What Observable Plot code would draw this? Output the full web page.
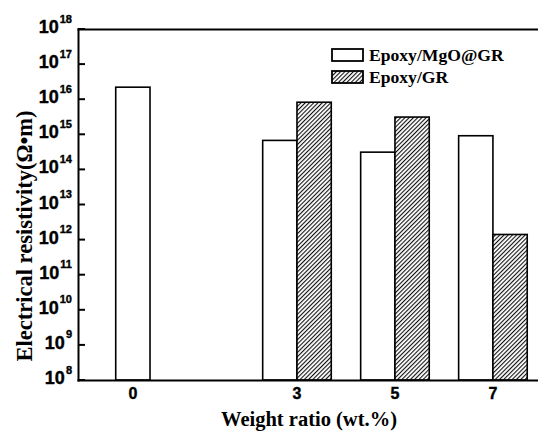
<!DOCTYPE html>
<html><head><meta charset="utf-8">
<script src="https://cdn.jsdelivr.net/npm/d3@7"></script>
<script src="https://cdn.jsdelivr.net/npm/@observablehq/plot@0.6"></script>
<style>body{margin:0;background:#fff}</style>
</head><body><div id="chart"></div>
<script>
// ---- data ----
const weights = [0, 3, 5, 7];
const mgoGR = [2.2e16, 6.7e14, 3.1e14, 9.1e14];
const epoxyGR = [null, 8.2e15, 3.1e15, 1.4e12];
const seriesNames = ["Epoxy/MgO@GR", "Epoxy/GR"];
const yTicks = [1e8, 1e9, 1e10, 1e11, 1e12, 1e13, 1e14, 1e15, 1e16, 1e17, 1e18];
const xTitle = "Weight ratio (wt.%)";
const yTitle = "Electrical resistivity(Ω•m)";

const barW = 0.7;
const rows = [];
weights.forEach((w, i) => {
  if (mgoGR[i] != null) rows.push({w, series: seriesNames[0], v: mgoGR[i], x1: w - barW, x2: w, base: yTicks[0]});
  if (epoxyGR[i] != null) rows.push({w, series: seriesNames[1], v: epoxyGR[i], x1: w, x2: w + barW, base: yTicks[0]});
});
const labels = weights.map(w => {
  const present = rows.filter(r => r.w === w);
  return {w, x: d3.mean(present, r => (r.x1 + r.x2) / 2)};
});

const serif = "'Liberation Serif', 'Times New Roman', serif";
const sans = "Arial, 'Liberation Sans', sans-serif";

const defs = () => {
  const d = d3.create("svg:defs");
  const p = d.append("pattern").attr("id", "hatch").attr("patternUnits", "userSpaceOnUse")
    .attr("width", 3).attr("height", 3).attr("patternTransform", "rotate(45)");
  p.append("rect").attr("width", 3).attr("height", 3).attr("fill", "white");
  p.append("rect").attr("x", 0).attr("y", 0).attr("width", 1.1).attr("height", 3).attr("fill", "#111");
  return d.node();
};

// y axis: inward ticks + 10^n labels, positioned through Plot's y scale
const yAxis = (index, scales, values, dims) => {
  const g = d3.create("svg:g");
  const x0 = dims.marginLeft;
  yTicks.forEach(t => {
    const y = scales.y(t);
    g.append("line").attr("x1", x0).attr("x2", x0 + 7).attr("y1", y).attr("y2", y)
      .attr("stroke", "black").attr("stroke-width", 2);
    const e = Math.round(Math.log10(t));
    const tx = g.append("text").attr("x", x0 - 6).attr("y", y + 4).attr("text-anchor", "end")
      .attr("font-family", sans).attr("font-weight", "bold").attr("fill", "black")
      .attr("stroke", "black").attr("stroke-width", 0.4);
    tx.append("tspan").attr("font-size", 18).text("10");
    tx.append("tspan").attr("font-size", 11).attr("dx", 1).attr("dy", -10.5).text(String(e));
  });
  return g.node();
};

const xLabels = (index, scales, values, dims) => {
  const g = d3.create("svg:g");
  const yb = dims.height - dims.marginBottom;
  labels.forEach(l => {
    g.append("text").attr("x", scales.x(l.x)).attr("y", yb + 19).attr("text-anchor", "middle")
      .attr("font-family", sans).attr("font-weight", "bold").attr("font-size", 16).attr("fill", "black")
      .attr("stroke", "black").attr("stroke-width", 0.4)
      .text(String(l.w));
  });
  return g.node();
};

const legend = () => {
  const g = d3.create("svg:g");
  seriesNames.forEach((s, i) => {
    const y = 49 + i * 22;
    g.append("rect").attr("x", 332).attr("y", y).attr("width", 31).attr("height", 12)
      .attr("fill", i === 0 ? "white" : "url(#hatch)").attr("stroke", "black").attr("stroke-width", 1.8);
    g.append("text").attr("x", 369).attr("y", y + 11.5).attr("text-anchor", "start").attr("font-family", serif)
      .attr("font-weight", "bold").attr("font-size", 17.6).attr("fill", "black").text(s);
  });
  return g.node();
};

const titles = () => {
  const g = d3.create("svg:g").attr("font-family", serif).attr("font-weight", "bold").attr("fill", "black");
  g.append("text").attr("x", 309).attr("y", 426).attr("text-anchor", "middle").attr("font-size", 20.5).text(xTitle);
  g.append("text").attr("transform", "translate(32,236) rotate(-90)").attr("text-anchor", "middle")
    .attr("font-size", 22.5).text(yTitle);
  return g.node();
};

const chart = Plot.plot({
  width: 538, height: 431,
  marginLeft: 78, marginRight: 0, marginTop: 29, marginBottom: 51,
  style: {background: "white", fontFamily: sans, color: "black"},
  x: {domain: [-1.47, 7.92], axis: null},
  y: {type: "log", domain: [yTicks[0], yTicks[yTicks.length - 1]], axis: null},
  marks: [
    defs,
    Plot.rectY(rows.filter(r => r.series === seriesNames[0]), {x1: "x1", x2: "x2", y1: "base", y2: "v", fill: "white", stroke: "black", strokeWidth: 1.6}),
    Plot.rectY(rows.filter(r => r.series === seriesNames[1]), {x1: "x1", x2: "x2", y1: "base", y2: "v", fill: "url(#hatch)", stroke: "black", strokeWidth: 1.6}),
    yAxis,
    Plot.frame({anchor: "left", strokeWidth: 2}),
    Plot.frame({anchor: "bottom", strokeWidth: 2}),
    Plot.frame({anchor: "top", strokeWidth: 2}),
    xLabels,
    legend,
    titles
  ]
});

document.getElementById("chart").appendChild(chart);
</script>
</body></html>
